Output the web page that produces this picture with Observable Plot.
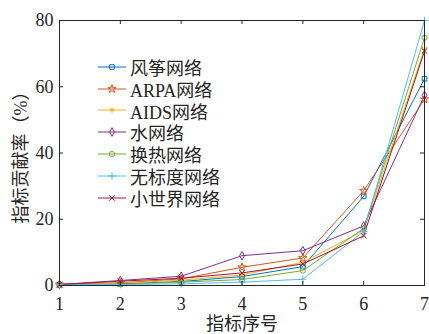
<!DOCTYPE html>
<html>
<head>
<meta charset="utf-8">
<script src="https://cdn.jsdelivr.net/npm/d3@7"></script>
<script src="https://cdn.jsdelivr.net/npm/@observablehq/plot@0.6"></script>
<style>
  html, body { margin: 0; padding: 0; background: white; }
  #wrap { position: relative; width: 429px; height: 334px; overflow: hidden; }
  #legend { position: absolute; left: 97px; top: 56px; font-family: 'Liberation Serif', 'Noto Sans CJK SC', serif; font-size: 18px; color: #262626; }
  .row { display: flex; align-items: center; height: 21.8px; white-space: nowrap; }
  .row svg { margin-right: 3px; }
</style>
</head>
<body>
<div id="wrap"></div>
<script>
// ---- data ----
const xIndex = [1, 2, 3, 4, 5, 6, 7];
const seriesNames = ["风筝网络", "ARPA网络", "AIDS网络", "水网络", "换热网络", "无标度网络", "小世界网络"];
const kite      = [0.3, 0.5, 1.2, 2.7, 5.7, 26.9, 62.4];
const arpa      = [0.3, 0.8, 2.0, 5.5, 8.3, 28.6, 56.2];
const aids      = [0.3, 0.7, 1.6, 3.2, 7.0, 16.6, 71.5];
const water     = [0.3, 1.5, 2.8, 9.0, 10.5, 18.0, 57.4];
const heat      = [0.3, 0.4, 1.0, 1.8, 4.5, 17.2, 74.8];
const scaleFree = [0.3, 0.3, 0.5, 1.0, 1.9, 16.3, 80.0];
const smallWorld= [0.3, 1.3, 2.2, 3.8, 6.5, 15.0, 70.8];
const xTicks = [1, 2, 3, 4, 5, 6, 7];
const yTicks = [0, 20, 40, 60, 80];
const xLabel = "指标序号";
const yLabel = "指标贡献率（%）";

// ---- styles ----
const colors = ["#0072BD", "#D95319", "#EDB120", "#7E2F8E", "#77AC30", "#4DBEEE", "#A2142F"];
const symbols = ["square", "star", "asterisk", "diamond", "circle", "plus", "times"];
const d3Symbols = [d3.symbolSquare, d3.symbolStar, d3.symbolAsterisk, d3.symbolDiamond, d3.symbolCircle, d3.symbolPlus, d3.symbolTimes];
const R = 2.6;

const allSeries = [kite, arpa, aids, water, heat, scaleFree, smallWorld];
const data = [];
allSeries.forEach((vals, i) => vals.forEach((v, j) => data.push({series: seriesNames[i], x: xIndex[j], y: v})));

const axisColor = "#262626";
const W = 429, H = 334, mL = 59, mR = 5, mT = 20, mB = 49;
const fw = W - mL - mR, fh = H - mT - mB, tl = 4;

const chart = Plot.plot({
  width: W, height: H,
  marginLeft: mL, marginRight: mR, marginTop: mT, marginBottom: mB,
  style: {fontFamily: "'Liberation Serif', 'Noto Sans CJK SC', serif", fontSize: "18px", color: axisColor, background: "white"},
  x: {domain: [1, 7]},
  y: {domain: [0, 80]},
  color: {domain: seriesNames, range: colors},
  symbol: {domain: seriesNames, range: symbols},
  marks: [
    Plot.line(data, {x: "x", y: "y", z: "series", stroke: "series", strokeWidth: 1}),
    Plot.dot(data, {x: "x", y: "y", symbol: "series", stroke: "series", r: R, strokeWidth: 1, fill: "none"}),
    Plot.frame({stroke: axisColor, strokeWidth: 1}),
    Plot.ruleX(xTicks, {x: d => d, insetTop: fh - tl, stroke: axisColor}),
    Plot.ruleX(xTicks, {x: d => d, insetBottom: fh - tl, stroke: axisColor}),
    Plot.ruleY(yTicks, {y: d => d, insetRight: fw - tl, stroke: axisColor}),
    Plot.ruleY(yTicks, {y: d => d, insetLeft: fw - tl, stroke: axisColor}),
    Plot.axisX({ticks: xTicks, tickSize: 0, tickPadding: 12, tickFormat: d => String(d), label: xLabel, labelAnchor: "center", labelArrow: "none", labelOffset: 44, fontSize: 18}),
    Plot.axisY({ticks: yTicks, tickSize: 0, tickPadding: 6, tickFormat: d => String(d), label: yLabel, labelAnchor: "center", labelArrow: "none", labelOffset: 45, fontSize: 18})
  ]
});
const wrap = document.getElementById("wrap");
wrap.appendChild(chart);

// ---- legend (HTML overlay) ----
const legend = document.createElement("div");
legend.id = "legend";
seriesNames.forEach((name, i) => {
  const row = document.createElement("div");
  row.className = "row";
  const svg = d3.create("svg").attr("width", 30).attr("height", 12);
  svg.append("line").attr("x1", 1).attr("x2", 29).attr("y1", 6).attr("y2", 6).attr("stroke", colors[i]).attr("stroke-width", 1);
  svg.append("path").attr("transform", "translate(15,6)")
    .attr("d", d3.symbol(d3Symbols[i], Math.PI * R * R)())
    .attr("fill", "none").attr("stroke", colors[i]).attr("stroke-width", 1);
  row.appendChild(svg.node());
  const span = document.createElement("span");
  span.textContent = name;
  row.appendChild(span);
  legend.appendChild(row);
});
wrap.appendChild(legend);
</script>
</body>
</html>
